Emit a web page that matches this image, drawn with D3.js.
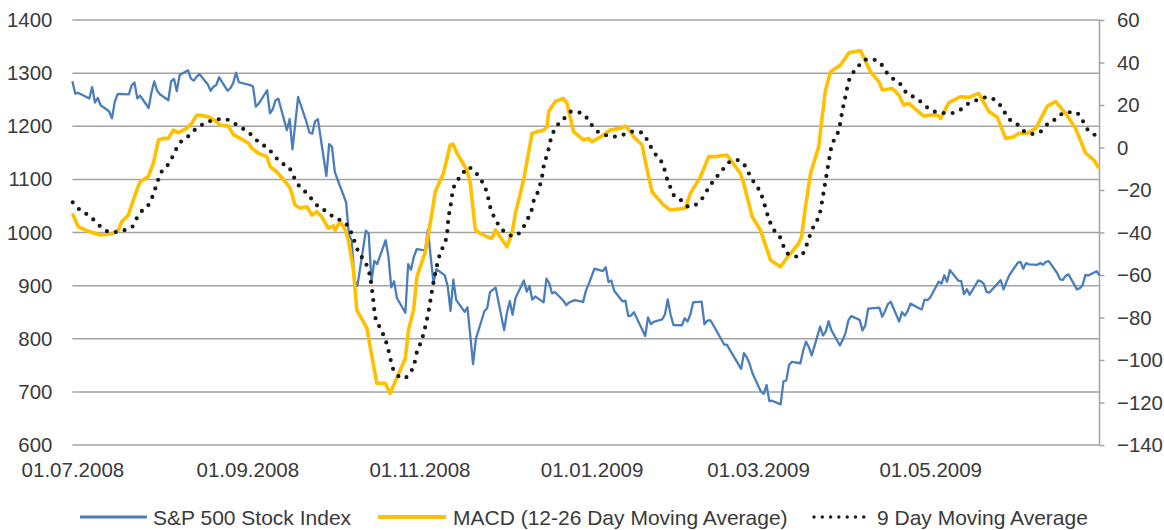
<!DOCTYPE html>
<html><head><meta charset="utf-8">
<script src="https://cdn.jsdelivr.net/npm/d3@7"></script>
<style>
body{margin:0;background:#fff;}
svg{display:block;font-family:"Liberation Sans",Arial,sans-serif;}
</style></head><body>
<svg id="chart" width="1164" height="530"></svg>
<script>
// ---------- data ----------
const spData = [
["2008-07-01",1284.91],["2008-07-02",1261.52],["2008-07-03",1262.90],["2008-07-07",1252.31],["2008-07-08",1273.70],["2008-07-09",1244.69],["2008-07-10",1253.39],["2008-07-11",1239.49],["2008-07-14",1228.30],["2008-07-15",1214.91],["2008-07-16",1245.36],["2008-07-17",1260.32],["2008-07-18",1260.68],["2008-07-21",1260.00],["2008-07-22",1277.00],["2008-07-23",1282.19],["2008-07-24",1252.54],["2008-07-25",1257.76],["2008-07-28",1234.37],["2008-07-29",1263.20],["2008-07-30",1284.26],["2008-07-31",1267.38],
["2008-08-01",1260.31],["2008-08-04",1249.01],["2008-08-05",1284.88],["2008-08-06",1289.19],["2008-08-07",1266.07],["2008-08-08",1296.32],["2008-08-11",1305.32],["2008-08-12",1289.59],["2008-08-13",1285.83],["2008-08-14",1292.93],["2008-08-15",1298.20],["2008-08-18",1278.60],["2008-08-19",1266.69],["2008-08-20",1274.54],["2008-08-21",1277.72],["2008-08-22",1292.20],["2008-08-25",1266.84],["2008-08-26",1271.51],["2008-08-27",1281.66],["2008-08-28",1300.68],["2008-08-29",1282.83],
["2008-09-02",1277.58],["2008-09-03",1274.98],["2008-09-04",1236.83],["2008-09-05",1242.31],["2008-09-08",1267.79],["2008-09-09",1224.51],["2008-09-10",1232.04],["2008-09-11",1249.05],["2008-09-12",1251.70],["2008-09-15",1192.70],["2008-09-16",1213.60],["2008-09-17",1156.39],["2008-09-18",1206.51],["2008-09-19",1255.08],["2008-09-22",1207.09],["2008-09-23",1188.22],["2008-09-24",1185.87],["2008-09-25",1209.18],["2008-09-26",1213.27],["2008-09-29",1106.42],["2008-09-30",1166.36],
["2008-10-01",1161.06],["2008-10-02",1114.28],["2008-10-03",1099.23],["2008-10-06",1056.89],["2008-10-07",996.23],["2008-10-08",984.94],["2008-10-09",909.92],["2008-10-10",899.22],["2008-10-13",1003.35],["2008-10-14",998.01],["2008-10-15",907.84],["2008-10-16",946.43],["2008-10-17",940.55],["2008-10-20",985.40],["2008-10-21",955.05],["2008-10-22",896.78],["2008-10-23",908.11],["2008-10-24",876.77],["2008-10-27",848.92],["2008-10-28",940.51],["2008-10-29",930.09],["2008-10-30",954.09],["2008-10-31",968.75],
["2008-11-03",966.30],["2008-11-04",1005.75],["2008-11-05",952.77],["2008-11-06",904.88],["2008-11-07",930.99],["2008-11-10",919.21],["2008-11-11",898.95],["2008-11-12",852.30],["2008-11-13",911.29],["2008-11-14",873.29],["2008-11-17",850.75],["2008-11-18",859.12],["2008-11-19",806.58],["2008-11-20",752.44],["2008-11-21",800.03],["2008-11-24",851.81],["2008-11-25",857.39],["2008-11-26",887.68],["2008-11-28",896.24],
["2008-12-01",816.21],["2008-12-02",848.81],["2008-12-03",870.74],["2008-12-04",845.22],["2008-12-05",876.07],["2008-12-08",909.70],["2008-12-09",888.67],["2008-12-10",899.24],["2008-12-11",873.59],["2008-12-12",879.73],["2008-12-15",868.57],["2008-12-16",913.18],["2008-12-17",904.42],["2008-12-18",885.28],["2008-12-19",887.88],["2008-12-22",871.63],["2008-12-23",863.16],["2008-12-24",868.15],["2008-12-26",872.80],["2008-12-29",869.42],["2008-12-30",890.64],["2008-12-31",903.25],
["2009-01-02",931.80],["2009-01-05",927.45],["2009-01-06",934.70],["2009-01-07",906.65],["2009-01-08",909.73],["2009-01-09",890.35],["2009-01-12",870.26],["2009-01-13",871.79],["2009-01-14",842.62],["2009-01-15",843.74],["2009-01-16",850.12],["2009-01-20",805.22],["2009-01-21",840.24],["2009-01-22",827.50],["2009-01-23",831.95],["2009-01-26",836.57],["2009-01-27",845.71],["2009-01-28",874.09],["2009-01-29",845.14],["2009-01-30",825.88],
["2009-02-02",825.44],["2009-02-03",838.51],["2009-02-04",832.23],["2009-02-05",845.85],["2009-02-06",868.60],["2009-02-09",869.89],["2009-02-10",827.16],["2009-02-11",833.74],["2009-02-12",835.19],["2009-02-13",826.84],["2009-02-17",789.17],["2009-02-18",788.42],["2009-02-19",778.94],["2009-02-20",770.05],["2009-02-23",743.33],["2009-02-24",773.14],["2009-02-25",764.90],["2009-02-26",752.83],["2009-02-27",735.09],
["2009-03-02",700.82],["2009-03-03",696.33],["2009-03-04",712.87],["2009-03-05",682.55],["2009-03-06",683.38],["2009-03-09",676.53],["2009-03-10",719.60],["2009-03-11",721.36],["2009-03-12",750.74],["2009-03-13",756.55],["2009-03-16",753.89],["2009-03-17",778.12],["2009-03-18",794.35],["2009-03-19",784.04],["2009-03-20",768.54],["2009-03-23",822.92],["2009-03-24",806.12],["2009-03-25",813.88],["2009-03-26",832.86],["2009-03-27",815.94],["2009-03-30",787.53],["2009-03-31",797.87],
["2009-04-01",811.08],["2009-04-02",834.38],["2009-04-03",842.50],["2009-04-06",835.48],["2009-04-07",815.55],["2009-04-08",825.16],["2009-04-09",856.56],["2009-04-13",858.73],["2009-04-14",841.50],["2009-04-15",852.06],["2009-04-16",865.30],["2009-04-17",869.60],["2009-04-20",832.39],["2009-04-21",850.08],["2009-04-22",843.55],["2009-04-23",851.92],["2009-04-24",866.23],["2009-04-27",857.51],["2009-04-28",855.16],["2009-04-29",873.64],["2009-04-30",872.81],
["2009-05-01",877.52],["2009-05-04",907.24],["2009-05-05",903.80],["2009-05-06",919.53],["2009-05-07",907.39],["2009-05-08",929.23],["2009-05-11",909.24],["2009-05-12",908.35],["2009-05-13",883.92],["2009-05-14",893.07],["2009-05-15",882.88],["2009-05-18",909.71],["2009-05-19",908.13],["2009-05-20",903.47],["2009-05-21",888.33],["2009-05-22",887.00],["2009-05-26",910.33],["2009-05-27",893.06],["2009-05-28",906.83],["2009-05-29",919.14],
["2009-06-01",942.87],["2009-06-02",944.74],["2009-06-03",931.76],["2009-06-04",942.46],["2009-06-05",940.09],["2009-06-08",939.14],["2009-06-09",942.43],["2009-06-10",939.15],["2009-06-11",944.89],["2009-06-12",946.21],["2009-06-15",923.72],["2009-06-16",911.97],["2009-06-17",910.71],["2009-06-18",918.37],["2009-06-19",921.23],["2009-06-22",893.04],["2009-06-23",895.10],["2009-06-24",900.94],["2009-06-25",920.26],["2009-06-26",918.90],["2009-06-29",927.23],["2009-06-30",919.32]
];

// MACD: [days since 01.07.2008, value]
const macdData = [
[0,-31.0],[2.1,-37.3],[5.1,-39.1],[6.8,-39.9],[9.8,-41.2],[13.9,-40.7],[16.3,-38.8],[17.5,-34.9],[19.8,-31.8],[22.2,-22.4],[24.0,-16.1],[26.9,-13.7],[28.7,-7.4],[30.5,3.5],[32.2,4.3],[34.0,4.3],[35.8,8.2],[37.6,7.0],[40.5,9.0],[42.3,11.4],[44.1,15.3],[45.9,15.0],[48.2,14.5],[50.6,12.6],[52.3,10.6],[55.3,10.1],[57.1,5.9],[60.0,3.9],[62.4,2.0],[63.6,-0.4],[65.9,-2.7],[68.9,-4.3],[70.1,-9.0],[72.4,-11.4],[75.4,-16.1],[77.2,-19.2],[78.9,-27.1],[80.7,-28.6],[83.1,-27.9],[84.9,-31.8],[86.6,-30.2],[88.4,-32.6],[90.7,-38.0],[92.5,-36.9],[93.1,-38.8],[94.9,-34.9],[96.7,-38.8],[97.8,-43.5],[99.6,-57.6],[100.8,-76.5],[104.4,-85.1],[105.5,-93.7],[107.9,-111],[110.9,-111],[112.6,-115.7],[118.0,-99.2],[119.1,-85.9],[120.9,-76.5],[122.1,-60.8],[125.1,-49],[127.4,-31],[128.6,-20.8],[131.5,-12.1],[133.9,1.2],[134.9,1.6],[136.3,-2.7],[139.8,-10.6],[141.0,-16.8],[142.8,-38.8],[144.5,-40.4],[146.9,-42],[148.7,-42.7],[149.9,-38.8],[154.0,-46.7],[155.8,-40.4],[157.0,-31],[159.9,-15.3],[162.9,6.7],[167.0,8.2],[168.2,9.8],[168.8,16.9],[171.1,21.6],[173.9,23.1],[175.3,20.8],[177.6,7.5],[181.2,3.5],[182.9,4.3],[184.1,2.7],[187.7,5.4],[190.6,8.2],[194.2,9.0],[196.0,10.1],[197.7,7.5],[198.9,5.1],[201.9,1.2],[203.7,-10.6],[205.4,-20.8],[209.5,-27.1],[211.9,-29.4],[217.2,-28.6],[219.0,-21.6],[222.6,-13.7],[225.5,-4.3],[227.9,-4.3],[232.0,-3.5],[236.7,-12.1],[237.9,-16.8],[240.9,-32.6],[243.8,-38.8],[246.2,-48.2],[247.4,-52.9],[250.9,-56.1],[254.5,-49.8],[257.4,-45.1],[258.4,-42],[259.8,-27.9],[261.6,-12.1],[264.5,0.4],[265.7,14.5],[266.9,27.1],[268.7,35.7],[272.2,38.8],[275.2,44.6],[279.3,45.6],[282.8,35.7],[285.8,31.0],[287.0,27.1],[290.5,27.8],[292.9,24.7],[294.6,20],[296.4,20.8],[301.7,14.8],[304.1,15.3],[306.5,15.3],[307.7,13.7],[310.6,21.1],[314.8,23.9],[317.7,23.6],[321.2,25.5],[324.8,16.9],[327.8,14.2],[330.7,4.3],[333.7,5.1],[335.4,6.7],[338.4,6.7],[341.4,9.0],[345.5,19.5],[348.4,21.6],[352.0,16.1],[355.5,9.0],[359.1,-2.7],[362.0,-5.9],[363.8,-9.8]
];

// 9 day moving average: [days since 01.07.2008, value]
const signalData = [
[0.1,-25.8],[2.7,-29.4],[5.6,-31.8],[8.6,-35.4],[11.0,-38.5],[14.3,-39.9],[17.8,-39.1],[21.0,-37.6],[22.8,-33.3],[24.9,-29.4],[27.3,-26.3],[28.7,-21.9],[29.9,-17.2],[31.1,-12.6],[33.4,-9.0],[35.2,-5.1],[36.7,-0.9],[38.8,3.2],[41.7,5.9],[44.3,9.5],[47.4,11.4],[50.6,13.3],[54.1,13.3],[57.7,11.1],[60.4,8.9],[63.2,6.2],[65.9,2.7],[68.9,-0.1],[71.2,-3.1],[73.6,-7.0],[76.6,-9],[78.3,-13.4],[80.1,-17.6],[82.5,-20.8],[84.9,-24.4],[87.2,-27.9],[90.2,-30.2],[93.1,-33.3],[96.1,-34.9],[98.4,-38.8],[99.6,-42.7],[100.8,-47.4],[102.6,-51.7],[104.4,-55.8],[105.5,-60.8],[106.5,-70.2],[107.3,-79.6],[108.8,-84.3],[110.2,-88.2],[111.5,-92.9],[112.4,-97.6],[113.2,-102.4],[114.8,-106.6],[117.3,-108.6],[120.3,-104.7],[121.5,-100],[122.1,-96.1],[123.6,-91.4],[125.4,-82.4],[126.2,-77.3],[126.8,-72.6],[127.4,-67.8],[128.6,-59.2],[130.4,-49.5],[131.9,-45.1],[132.8,-40.4],[133.1,-35.4],[133.6,-30.5],[134.2,-26],[134.7,-21.3],[135.9,-16.6],[138.0,-13.3],[140.0,-9.3],[142.5,-11.1],[144.5,-14.8],[146.3,-18.9],[147.3,-23.4],[148.1,-28.1],[149.5,-32.8],[151.3,-36.9],[153.8,-40.4],[156.3,-41.6],[159.3,-38.8],[161.1,-34.1],[162.6,-30.2],[163.4,-25.5],[164.9,-21.1],[166.6,-12.5],[167.2,-7.4],[168.4,-3.1],[169.1,1.6],[170.2,6.4],[171.7,10.1],[174.3,13.7],[176.8,16.9],[180.6,16.1],[182.9,12.9],[185.1,8.6],[188.0,6.4],[191.5,5.1],[195.0,5.9],[198.0,7.5],[201.9,7.0],[203.7,3.5],[205.4,-0.7],[207.5,-4.8],[209.5,-8.7],[210.4,-13.4],[211.7,-18.0],[213.1,-22.4],[216.1,-25.2],[218.4,-27.9],[222.0,-25.9],[225.9,-18.1],[227.9,-14.5],[230.2,-10.9],[232.4,-7.2],[235.6,-5.9],[238.3,-8.5],[239.9,-12.6],[241.7,-16.8],[243.8,-21.1],[245.0,-25.5],[246.0,-30.2],[247.1,-34.6],[248.6,-38.8],[250.7,-42.0],[252.1,-46.7],[254.2,-50.6],[257.8,-51.4],[259.8,-47.4],[260.9,-43.2],[262.2,-38.5],[263.9,-34.4],[265.1,-29.7],[265.7,-25.2],[266.3,-20.5],[266.9,-15.8],[267.5,-10.9],[268.1,-6.2],[268.7,-1.5],[269.8,3.2],[271.4,7.5],[272.2,12],[272.8,16.9],[273.6,21.6],[274.3,26.3],[275.1,31],[276.7,35.2],[278.9,38.8],[279.9,40.7],[282.8,41.6],[286.1,40.1],[288.1,36.1],[290.7,32.5],[293.5,29.7],[295.5,25.8],[298.4,23.6],[301.4,20.8],[304.1,17.6],[307.7,16.4],[311.0,16.1],[314.5,17.6],[317.3,20.5],[320.7,22.4],[324.0,23.6],[327.5,21.9],[329.7,18.1],[331.5,14.0],[334.5,11.4],[337.0,7.9],[340.2,6.4],[343.5,7.8],[345.8,11.4],[349.0,13.7],[351.7,16.6],[355.5,16.6],[357.9,12.9],[359.7,8.6],[362.4,5.9]
];

const xTickDates = ["2008-07-01","2008-09-01","2008-11-01","2009-01-01","2009-03-01","2009-05-01"];
const leftTicks = [600,700,800,900,1000,1100,1200,1300,1400];
const rightTicks = [-140,-120,-100,-80,-60,-40,-20,0,20,40,60];
const seriesNames = ["S&P 500 Stock Index","MACD (12-26 Day Moving Average)","9 Day Moving Average"];
const xDomain = ["2008-07-01","2009-06-30"];

// ---------- drawing ----------
const parse = d3.utcParse("%Y-%m-%d");
const start = parse(xDomain[0]);
const dayToDate = d => new Date(start.getTime() + d * 864e5);

const svg = d3.select("#chart");
const L = 72.4, R = 1099.5, T = 20, B = 445;
const textColor = "#3a3a3a", gridColor = "#a3a3a3";
const font = '"Liberation Sans",Arial,sans-serif';

const x = d3.scaleUtc().domain(xDomain.map(parse)).range([L, R]);
const yL = d3.scaleLinear().domain([600, 1400]).range([B, T]);
const yR = d3.scaleLinear().domain([-140, 60]).range([B, T]);

svg.append("rect").attr("width",1164).attr("height",530).attr("fill","#fff");

// gridlines
svg.append("g").selectAll("line").data(leftTicks).join("line")
  .attr("x1", L).attr("x2", R)
  .attr("y1", d => yL(d)).attr("y2", d => yL(d))
  .attr("stroke", gridColor).attr("stroke-width", 1.5);

// left axis labels
const gL = svg.append("g").attr("transform", `translate(${L},0)`)
  .call(d3.axisLeft(yL).tickValues(leftTicks).tickSize(0).tickPadding(20).tickFormat(d3.format("d")));
gL.select(".domain").remove();
gL.selectAll("text").attr("fill", textColor).style("font-size","20.4px").style("font-family",font);

// right axis
const gR = svg.append("g").attr("transform", `translate(${R},0)`)
  .call(d3.axisRight(yR).tickValues(rightTicks).tickSize(5).tickPadding(12.5).tickFormat(d3.format("d")));
gR.select(".domain").attr("stroke", gridColor).attr("stroke-width", 1.5).attr("d", `M0,${T}V${B}`);
gR.selectAll(".tick line").attr("stroke", gridColor).attr("stroke-width", 1.5);
gR.selectAll("text").attr("fill", textColor).style("font-size","20.4px").style("font-family",font);

// bottom axis labels
const gB = svg.append("g").attr("transform", `translate(0,${B})`)
  .call(d3.axisBottom(x).tickValues(xTickDates.map(parse)).tickSize(0).tickPadding(17).tickFormat(d3.utcFormat("%d.%m.%Y")));
gB.select(".domain").remove();
gB.selectAll("text").attr("fill", textColor).style("font-size","20.5px").style("font-family",font);

// S&P line
svg.append("path").datum(spData)
  .attr("fill","none").attr("stroke","#4a7ebb").attr("stroke-width",2.3).attr("stroke-linejoin","round")
  .attr("d", d3.line().x(d => x(parse(d[0]))).y(d => yL(d[1])));

// MACD line
svg.append("path").datum(macdData)
  .attr("fill","none").attr("stroke","#ffc000").attr("stroke-width",3.6).attr("stroke-linejoin","round")
  .attr("d", d3.line().x(d => x(dayToDate(d[0]))).y(d => yR(d[1])));

// Signal dotted line
svg.append("path").datum(signalData)
  .attr("fill","none").attr("stroke","#1a1a1a").attr("stroke-width",4.2)
  .attr("stroke-linecap","round").attr("stroke-dasharray","0 9")
  .attr("d", d3.line().curve(d3.curveMonotoneX).x(d => x(dayToDate(d[0]))).y(d => yR(d[1])));

// legend
const legendY = 517;
const legendItems = [
  {name: seriesNames[0], x1: 80, x2: 147, tx: 153, stroke: "#4a7ebb", w: 3, dash: null},
  {name: seriesNames[1], x1: 378, x2: 446, tx: 453, stroke: "#ffc000", w: 4, dash: null},
  {name: seriesNames[2], x1: 814, x2: 866, tx: 877, stroke: "#1a1a1a", w: 3.4, dash: "0 8.3"}
];
const lg = svg.append("g");
legendItems.forEach(it => {
  const ln = lg.append("line").attr("x1", it.x1).attr("x2", it.x2).attr("y1", legendY).attr("y2", legendY)
    .attr("stroke", it.stroke).attr("stroke-width", it.w);
  if (it.dash) ln.attr("stroke-dasharray", it.dash).attr("stroke-linecap","round");
  lg.append("text").attr("x", it.tx).attr("y", legendY + 7.5).attr("fill", textColor)
    .style("font-size","21px").style("font-family",font).text(it.name);
});
</script>
</body></html>
